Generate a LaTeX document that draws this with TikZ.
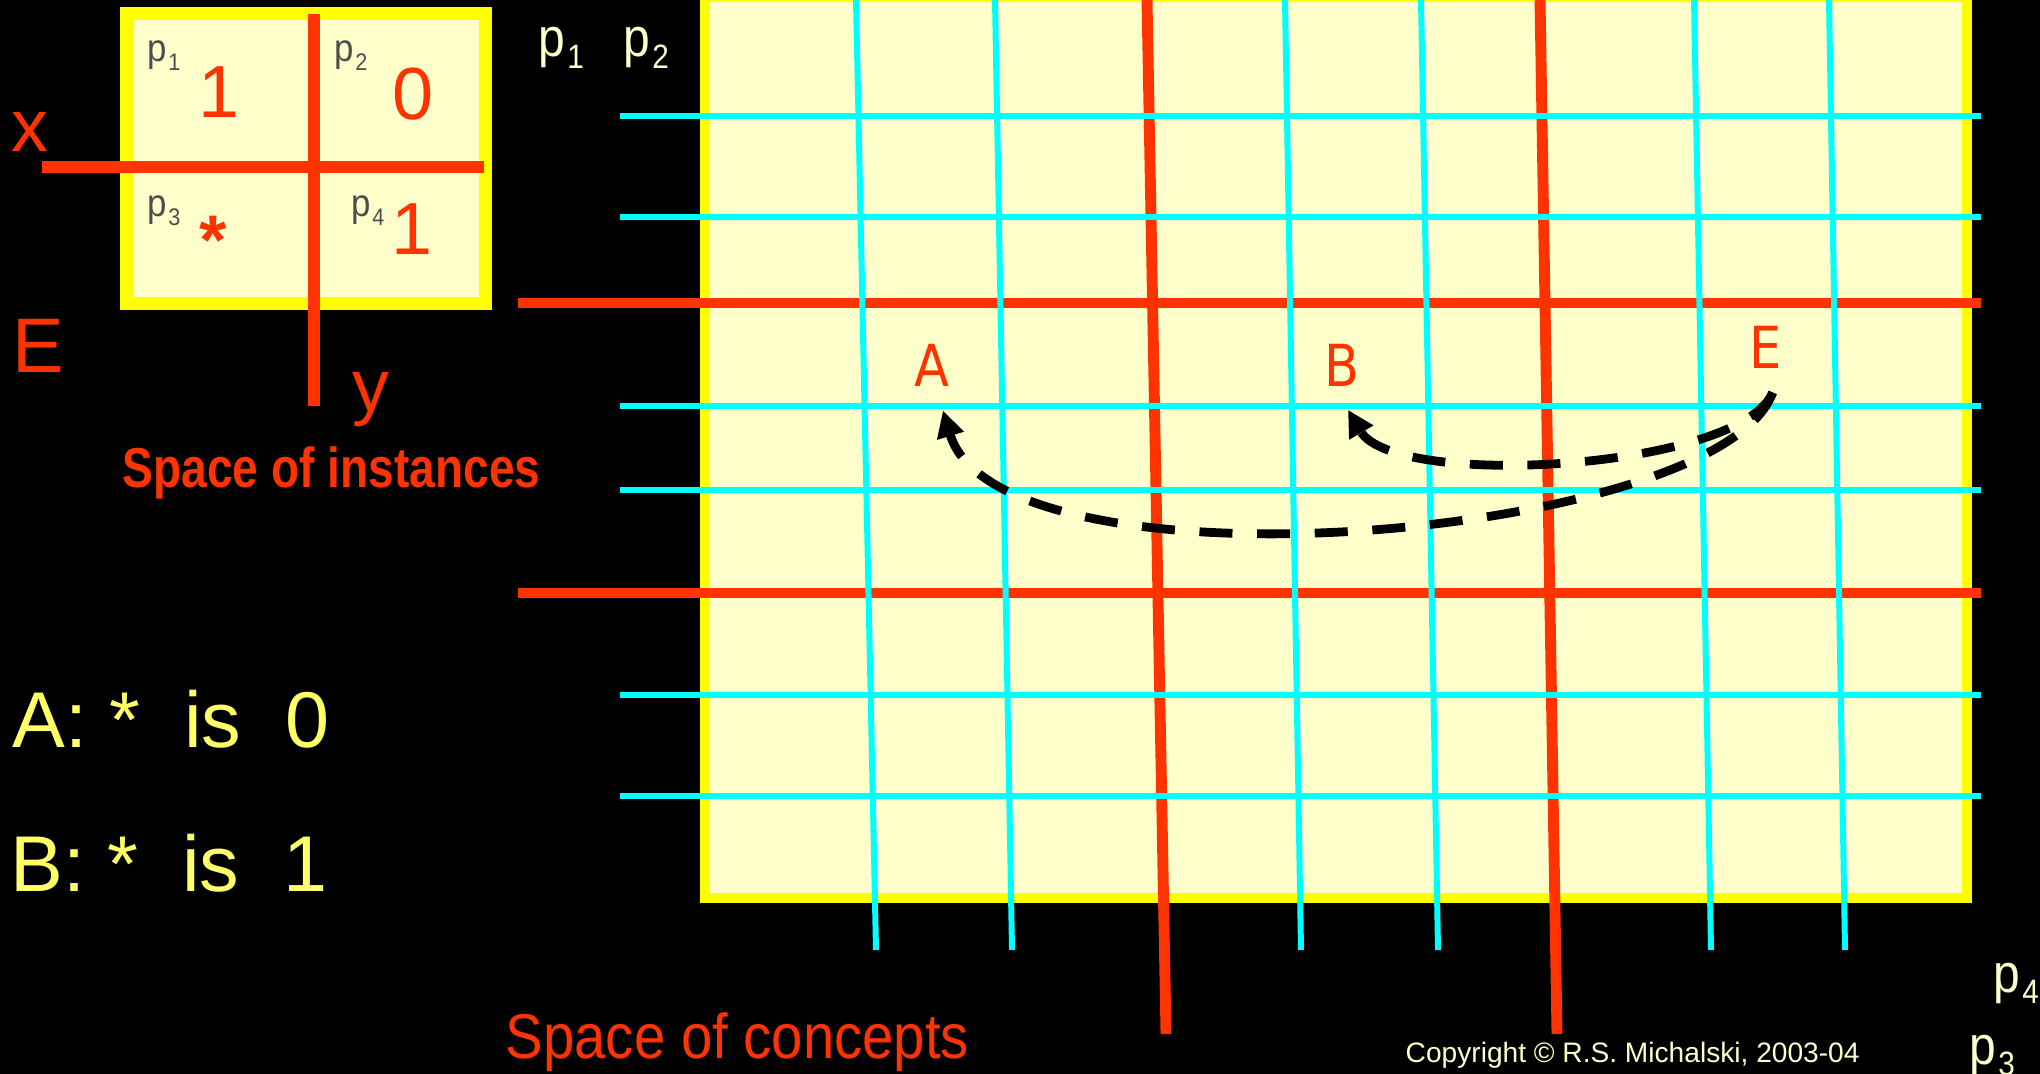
\documentclass[tikz,border=0pt]{standalone}
\usepackage{fontspec}
\setmainfont{Liberation Sans}
\newfontfamily\dvfont{DejaVu Sans}
\usetikzlibrary{arrows.meta}
\definecolor{redish}{HTML}{FF3300}
\definecolor{paleyellow}{HTML}{FFFFCC}
\definecolor{boxyellow}{HTML}{FFFF00}
\definecolor{aqua}{HTML}{00FFFF}
\definecolor{textyellow}{HTML}{FFFF66}
\definecolor{cream}{HTML}{FFFFCC}
\definecolor{pgray}{HTML}{4D4D4D}
\newcommand{\pn}[1]{p\kern.04em\raisebox{-.22em}{\scalebox{.62}{#1}}}
\newcommand{\setfs}[1]{\fontsize{#1}{#1}\selectfont}

\begin{document}
\begin{tikzpicture}[x=0.01cm, y=-0.01cm,
    redline/.style={draw=redish, line width=3.1pt},
    cyanline/.style={draw=aqua, line width=1.7pt},
    lbl/.style={inner sep=0pt, anchor=base west},
    cell/.style={inner sep=0pt, anchor=base},
    dasharrow/.style={line width=2.5pt, dash pattern=on 9.4pt off 7pt, -{Triangle[length=7.5pt,width=7.5pt]}}]

    \fill[black] (0,0) rectangle (2040,1074);
    \useasboundingbox (0,0) rectangle (2040,1074);

    % Space of instances
    \draw[fill=paleyellow, draw=boxyellow, line width=3.7pt] (127,14) rectangle (485,304);
    \draw[redline, line width=3.4pt] (314,14) -- (314,406);
    \draw[redline, line width=3.4pt] (42,167) -- (484,167);

    \node[lbl, text=pgray] (p1) at (147,62) {\setfs{11}\scalebox{0.9}[1]{\pn{1}}};
    \node[lbl, text=pgray] (p2) at (334,62) {\setfs{11}\scalebox{0.9}[1]{\pn{2}}};
    \node[lbl, text=pgray] (p3) at (147,217) {\setfs{11}\scalebox{0.9}[1]{\pn{3}}};
    \node[lbl, text=pgray] (p4) at (351,217) {\setfs{11}\scalebox{0.9}[1]{\pn{4}}};
    \node[cell, text=redish] (v1) at (219,118) {\setfs{21}1};
    \node[cell, text=redish] (v2) at (413,120) {\setfs{21}0};
    \node[cell, text=redish] (v3) at (213,265) {\setfs{20}\bfseries *};
    \node[cell, text=redish] (v4) at (412,255) {\setfs{21}1};

    \node[lbl, text=redish] (xlbl) at (11,152) {\setfs{21}x};
    \node[lbl, text=redish] (ylbl) at (352,412) {\setfs{21}y};
    \node[lbl, text=redish] (elbl) at (12,373) {\setfs{22}E};
    \node[lbl, text=redish] (inst) at (122,488) {\setfs{16}\bfseries\scalebox{0.82}[1]{Space of instances}};

    \node[lbl, text=textyellow] (ruleA) at (12,748) {\setfs{22.5}A: *\ \ is\ \ 0};
    \node[lbl, text=textyellow] (ruleB) at (10,892) {\setfs{22.5}B: *\ \ is\ \ 1};

    % Space of concepts
    \draw[fill=paleyellow, draw=boxyellow, line width=3.1pt] (705,-3) rectangle (1967,898);
    \foreach \y in {303,593}
      \draw[redline] (518,\y) -- (1981,\y);
    \foreach \a/\b in {1147/1166,1540/1557}
      \draw[redline] (\a,0) -- (\b,1034);
    \foreach \y in {116,217,406,490,695,796}
      \draw[cyanline] (620,\y) -- (1981,\y);
    \foreach \a/\b in {856/876,995/1012,1285/1301,1421/1438,1694/1711,1829/1845}
      \draw[cyanline] (\a,0) -- (\b,950);

    \node[lbl, text=cream] (q1) at (538,57) {\setfs{15.5}\scalebox{0.88}[1]{\pn{1}}};
    \node[lbl, text=cream] (q2) at (623,57) {\setfs{15.5}\scalebox{0.88}[1]{\pn{2}}};
    \node[lbl, text=cream] (q4) at (1993,992) {\setfs{15.5}\scalebox{0.88}[1]{\pn{4}}};
    \node[lbl, text=cream] (q3) at (1969,1064) {\setfs{15.5}\scalebox{0.88}[1]{\pn{3}}};

    \node[cell, text=redish] (A) at (932,387) {\dvfont\setfs{16.5}\scalebox{0.88}[1]{A}};
    \node[cell, text=redish] (B) at (1342,387) {\dvfont\setfs{16.5}\scalebox{0.88}[1]{B}};
    \node[cell, text=redish] (E) at (1766,369) {\dvfont\setfs{16.5}\scalebox{0.88}[1]{E}};

    \draw[dasharrow] ([xshift=1.9pt,yshift=-6.5pt]E.south) .. controls (1740,470) and (1395,490) .. ([xshift=1.7pt,yshift=-6.3pt]B.south);
    \draw[dasharrow] ([xshift=1.9pt,yshift=-6.5pt]E.south) .. controls (1720,540) and (1000,600) .. ([xshift=3.1pt,yshift=-6.5pt]A.south);

    \node[lbl, text=redish] (conc) at (505,1058) {\setfs{18}\scalebox{0.89}[1]{Space of concepts}};
    \node[lbl, text=cream] (copy) at (1405,1062) {\setfs{8}Copyright © R.S. Michalski, 2003-04};
\end{tikzpicture}
\end{document}
